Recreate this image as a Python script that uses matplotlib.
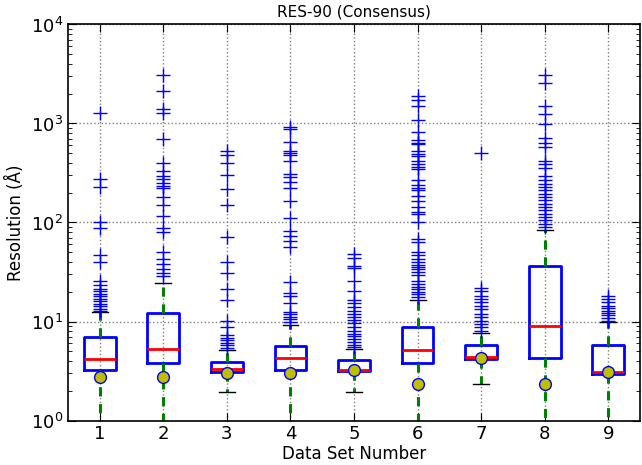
import matplotlib
matplotlib.use("Agg")
import matplotlib.pyplot as plt
from matplotlib.ticker import LogLocator, FixedLocator

plt.rcParams['font.family'] = ['DejaVu Sans']
plt.rcParams['mathtext.fontset'] = 'dejavusans'
plt.rcParams['mathtext.default'] = 'regular'

labels = [1, 2, 3, 4, 5, 6, 7, 8, 9]
q1 = [3.21, 3.80, 3.09, 3.26, 3.18, 3.80, 4.20, 4.27, 2.97]
med = [4.17, 5.31, 3.29, 4.27, 3.21, 5.19, 4.34, 8.97, 3.11]
q3 = [6.95, 12.1, 3.93, 5.64, 4.08, 8.9, 5.73, 36.6, 5.73]
whislo = [0.5, 0.5, 1.94, 0.5, 1.94, 0.5, 2.32, 0.5, 0.5]
whishi = [12.4, 24.7, 5.1, 9.12, 5.3, 16.5, 7.62, 84.4, 9.8]
marker_vals = [2.75, 2.75, 3.04, 3.04, 3.21, 2.32, 4.3, 2.32, 3.06]

fliers_1 = [1282, 274, 231, 102, 89, 47, 40, 25.5, 23.6, 21.3, 20.2, 19.0, 17.9,
            16.9, 16.0, 15.1, 14.2, 13.4, 12.7]
fliers_2 = [3120, 2120, 1406, 1282, 701, 402, 332, 295, 274, 253, 234, 222, 181,
            150, 115, 88, 81, 49.9, 42.8, 38.1, 34, 30.9, 29]
fliers_3 = [527, 477, 397, 302, 220, 150, 71.8, 39.6, 30.6, 21.3, 16.3, 10.2, 8.77,
            7.23, 6.79, 6.44, 6.1, 5.73, 5.43]
fliers_4 = [920, 872, 654, 527, 500, 477, 418, 312, 291, 259, 225, 163, 112, 82.5,
            73.5, 64.4, 56.9, 24.9, 19.3, 18.3, 15.3, 12.4, 11.8, 11.0, 10.5, 9.84]
fliers_5 = [48.1, 43.4, 36.6, 34.7, 25.5, 20.5, 16.3, 15.3, 13.9, 12.9, 12.0, 11.2,
            10.4, 9.6, 8.77, 8.11, 7.4, 7.06, 6.7, 6.19, 5.73, 5.51]
fliers_6 = [1888, 1709, 1496, 1074, 825, 676, 639, 616, 527, 495, 470, 418, 387, 364,
            345, 267, 240, 225, 212, 186, 165, 142, 128, 122, 100, 68, 63, 49.9, 47.3,
            42.8, 39.6, 37.5, 35.8, 34, 31.4, 29.5, 25.9, 24, 22.1, 21.3, 19.7, 19.0, 17.6]
fliers_7 = [507, 21.9, 20.5, 18.3, 16.9, 15.6, 14.5, 13.4, 12.0, 11.0, 10.2, 9.48,
            8.77, 8.11]
fliers_8 = [3120, 2570, 1496, 1236, 993, 708, 640, 578, 418, 387, 353, 295, 267, 247,
            229, 212, 196, 181, 168, 155, 144, 133, 123, 114, 106, 97.7, 90.5]
fliers_9 = [18.3, 16.9, 15.6, 14.5, 13.7, 12.9, 12.1, 11.5, 10.8, 10.2]
fliers = [fliers_1, fliers_2, fliers_3, fliers_4, fliers_5, fliers_6, fliers_7,
          fliers_8, fliers_9]

stats = []
for i in range(len(labels)):
    stats.append(dict(label=str(labels[i]), q1=q1[i], med=med[i], q3=q3[i],
                      whislo=whislo[i], whishi=whishi[i], fliers=fliers[i]))

fig = plt.figure(figsize=(6.42, 4.65), dpi=100)
ax = fig.add_axes([68 / 642, 1 - 420.5 / 465, 572 / 642, 396 / 465])

ax.bxp(stats, positions=labels, widths=0.5,
       boxprops=dict(color='blue', linewidth=2),
       medianprops=dict(color='red', linewidth=2),
       whiskerprops=dict(color='green', linestyle=(0, (3, 2.5)), linewidth=2.2),
       capprops=dict(color='black', linewidth=1),
       flierprops=dict(marker='+', markeredgecolor='blue', markersize=10,
                       markeredgewidth=1, linestyle='none'))

ax.plot(labels, marker_vals, linestyle='none', marker='o', markersize=8.5,
        markerfacecolor=(0.75, 0.75, 0.0), markeredgecolor='blue',
        markeredgewidth=1, zorder=5)

ax.set_yscale('log')
ax.set_ylim(1, 1e4)
ax.set_xlim(0.5, 9.5)
ax.xaxis.set_major_locator(FixedLocator(labels))
ax.set_xticklabels([str(v) for v in labels])
ax.yaxis.set_major_locator(LogLocator(base=10, numticks=10))
ax.yaxis.set_minor_locator(LogLocator(base=10, subs=range(2, 10), numticks=20))

ax.grid(True, which='major', color='0.5', linestyle=':', linewidth=1)
ax.tick_params(which='both', direction='in', top=True, right=True, labelsize=13)
ax.tick_params(which='major', length=6)
ax.tick_params(which='minor', length=3)
for s in ax.spines.values():
    s.set_linewidth(1.2)

ax.set_title('RES-90 (Consensus)', fontsize=11)
ax.set_xlabel('Data Set Number', fontsize=12, labelpad=1)
ax.set_ylabel('Resolution (Å)', fontsize=12)

fig.savefig('out.png', dpi=100)
